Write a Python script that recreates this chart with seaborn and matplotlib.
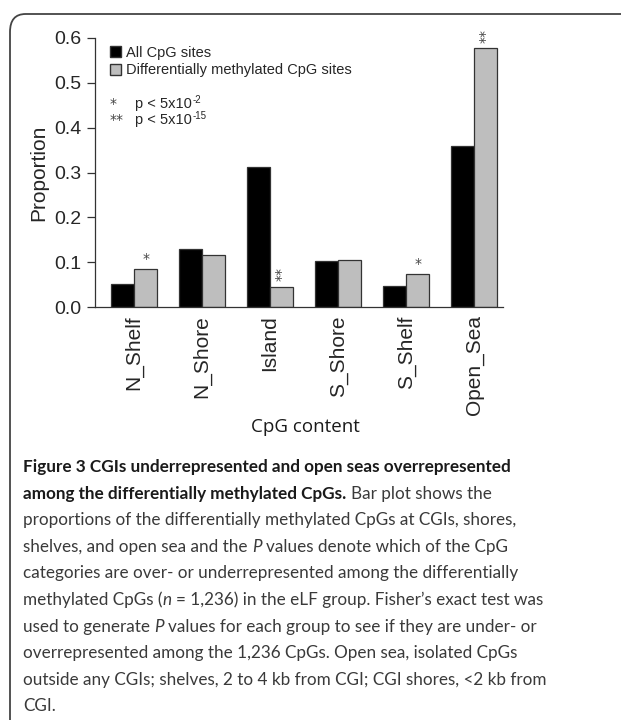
import numpy as np
import pandas as pd
import matplotlib
matplotlib.use("Agg")
import matplotlib.pyplot as plt
import seaborn as sns
from matplotlib.patches import Patch, FancyBboxPatch

# Values
regions = ["N_Shelf", "N_Shore", "Island", "S_Shore", "S_Shelf", "Open_Sea"]
all_sites = [0.052, 0.130, 0.312, 0.103, 0.047, 0.360]
dm_sites = [0.085, 0.115, 0.045, 0.104, 0.074, 0.577]
dm_stars = ["*", "", "**", "", "*", "**"]
series_names = ["All CpG sites", "Differentially methylated CpG sites"]
yticks = [0.0, 0.1, 0.2, 0.3, 0.4, 0.5, 0.6]

W, H = 621, 720
sns.set_style("ticks")
plt.rcParams["font.family"] = ["Liberation Sans", "DejaVu Sans"]

df = pd.DataFrame({
    "region": regions * 2,
    "series": [series_names[0]] * len(regions) + [series_names[1]] * len(regions),
    "proportion": all_sites + dm_sites,
})

fig = plt.figure(figsize=(W / 100, H / 100), dpi=100)
renderer = fig.canvas.get_renderer()

# rounded frame around the figure panel (runs off the right / bottom edge)
frame = FancyBboxPatch((10 / W, -0.05), 1.2, 1 - 14 / H + 0.05,
                       boxstyle="round,pad=0,rounding_size=0.025",
                       transform=fig.transFigure, fill=False,
                       edgecolor="#444444", linewidth=1.3)
fig.patches.append(frame)

ax = fig.add_axes([95 / W, 1 - 307 / H, (503 - 95) / W, (307 - 38) / H])
sns.barplot(data=df, x="region", y="proportion", hue="series",
            palette=["black", "#bebebe"], width=0.68, gap=0,
            edgecolor="#333333", linewidth=0.9, legend=False, ax=ax)

ax.set_xlim(-0.574, 5.426)
ax.set_ylim(0, 0.6)
ax.set_yticks(yticks)
ax.set_yticklabels([f"{v:.1f}" for v in yticks])
ax.tick_params(axis="y", labelsize=14, length=6, width=0.9, color="#333333", pad=4)
ax.tick_params(axis="x", labelsize=15, length=0, rotation=90, pad=6)
sns.despine(ax=ax, top=True, right=True)
for side in ["left", "bottom"]:
    ax.spines[side].set_color("#333333")
    ax.spines[side].set_linewidth(0.9)
ax.set_ylabel("Proportion", fontsize=15, labelpad=4)
ax.set_xlabel("")

# significance stars above the grey bars
for i, (v, s) in enumerate(zip(dm_sites, dm_stars)):
    if not s:
        continue
    xc = i + 0.17
    if s == "**":
        ax.text(xc, v + 0.012, s, rotation=90, ha="center", va="bottom",
                fontsize=10, color="#444444", family="DejaVu Sans", clip_on=False)
    else:
        ax.text(xc, v + 0.006, s, ha="center", va="bottom",
                fontsize=10, color="#444444", family="DejaVu Sans", clip_on=False)

# legend
handles = [Patch(facecolor="black", edgecolor="#333333"),
           Patch(facecolor="#bebebe", edgecolor="#333333")]
leg = ax.legend(handles, series_names, loc="upper left", frameon=False,
                bbox_to_anchor=(104 / W, 1 - 40 / H), bbox_transform=fig.transFigure,
                fontsize=10.5, handlelength=0.75, handleheight=0.75,
                handletextpad=0.35, labelspacing=0.25, borderaxespad=0)


def p_line(y_px, stars, exponent):
    fig.text(110 / W, 1 - y_px / H, stars, fontsize=10, color="#444444",
             family="DejaVu Sans", va="baseline")
    t = fig.text(135 / W, 1 - y_px / H, "p < 5x10", fontsize=10.5, va="baseline")
    x_end = 135 + t.get_window_extent(renderer).width
    fig.text((x_end + 0.5) / W, 1 - (y_px - 5) / H, exponent, fontsize=7, va="baseline")


p_line(108, "*", "-2")
p_line(124, "**", "-15")

fig.text(305 / W, 1 - 427 / H, "CpG content", fontsize=13.5, ha="center",
         va="center", family="Open Sans", color="#1a1a1a")

# caption
cap_font = "Lato"
cap_size = 12.35
caption = [
    [("Figure 3 CGIs underrepresented and open seas overrepresented", "b")],
    [("among the differentially methylated CpGs.", "b"), (" Bar plot shows the", "n")],
    [("proportions of the differentially methylated CpGs at CGIs, shores,", "n")],
    [("shelves, and open sea and the ", "n"), ("P", "i"), (" values denote which of the CpG", "n")],
    [("categories are over- or underrepresented among the differentially", "n")],
    [("methylated CpGs (", "n"), ("n", "i"), (" = 1,236) in the eLF group. Fisher\u2019s exact test was", "n")],
    [("used to generate ", "n"), ("P", "i"), (" values for each group to see if they are under- or", "n")],
    [("overrepresented among the 1,236 CpGs. Open sea, isolated CpGs", "n")],
    [("outside any CGIs; shelves, 2 to 4 kb from CGI; CGI shores, <2 kb from", "n")],
    [("CGI.", "n")],
]


def text_width(s, weight="normal", style="normal"):
    t = fig.text(0, 0, s, fontsize=cap_size, family=cap_font, fontweight=weight, fontstyle=style)
    w = t.get_window_extent(renderer).width
    t.remove()
    return w


space_w = text_width("a a") - text_width("aa")

for k, line in enumerate(caption):
    y = 472 + 26.6 * k
    x = 23.0
    for txt, st in line:
        lead = len(txt) - len(txt.lstrip(" "))
        trail = len(txt) - len(txt.rstrip(" "))
        core = txt.strip(" ")
        x += lead * space_w
        weight = "bold" if st == "b" else "normal"
        style = "italic" if st == "i" else "normal"
        color = "#1a1a1a" if st == "b" else "#3a3a3a"
        t = fig.text(x / W, 1 - y / H, core, fontsize=cap_size, family=cap_font,
                     fontweight=weight, fontstyle=style, color=color, va="baseline")
        x += t.get_window_extent(renderer).width + trail * space_w

fig.savefig("out.png", dpi=100)
